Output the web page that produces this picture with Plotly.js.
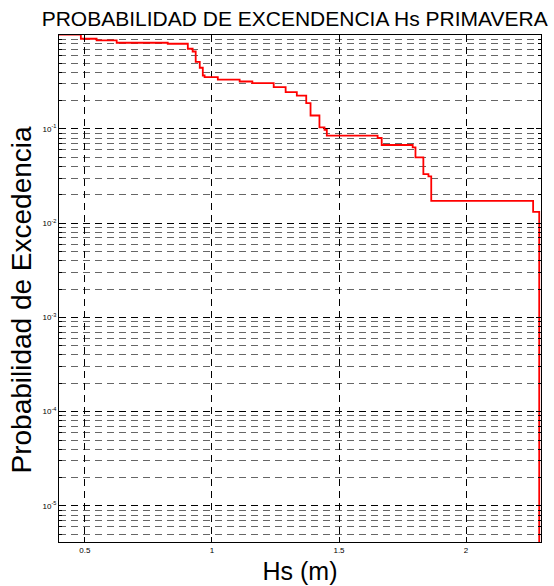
<!DOCTYPE html>
<html>
<head>
<meta charset="utf-8">
<script src="https://cdn.plot.ly/plotly-3.0.1.min.js"></script>
<style>html,body{margin:0;padding:0;background:#fff;}#chart{width:554px;height:586px;}</style>
</head>
<body>
<div id="chart"></div>
<script>
// Hs (m) where each step begins, and exceedance probability from there
const hs = [0.398, 0.484, 0.546, 0.625, 0.826, 0.905, 0.924, 0.936, 0.952, 0.964, 0.971,
            1.023, 1.109, 1.159, 1.243, 1.290, 1.334, 1.371, 1.388, 1.423, 1.443, 1.452,
            1.652, 1.668, 1.790, 1.801, 1.832, 1.852, 1.863, 2.264, 2.288];
const prob = [1.0, 0.906, 0.870, 0.822, 0.802, 0.710, 0.664, 0.516, 0.446, 0.369, 0.355,
              0.334, 0.319, 0.306, 0.278, 0.246, 0.226, 0.188, 0.139, 0.104, 0.098, 0.0849,
              0.0802, 0.0676, 0.0638, 0.050, 0.0332, 0.0314, 0.01726, 0.0132, 1e-9];
const xTicks = [0.5, 1, 1.5, 2];
const xTickText = ['0.5', '1', '1.5', '2'];
const yTicks = [1e-5, 1e-4, 1e-3, 1e-2, 1e-1];
const yTickText = ['10<sup>-5</sup>', '10<sup>-4</sup>', '10<sup>-3</sup>', '10<sup>-2</sup>', '10<sup>-1</sup>'];

const minorY = [];
for (let e = -6; e <= -1; e++) for (let k = 2; k <= 9; k++) minorY.push(k * Math.pow(10, e));

const FONT = 'Liberation Sans, Arial, sans-serif';
const DASH = '7px,5px';

const trace = {
  x: hs, y: prob, type: 'scatter', mode: 'lines',
  line: {color: '#ff0000', width: 1.8, shape: 'hv'},
  hoverinfo: 'skip'
};

const layout = {
  width: 554, height: 586,
  margin: {l: 59, r: 13, t: 35, b: 44},
  paper_bgcolor: '#fff', plot_bgcolor: '#fff',
  showlegend: false,
  font: {family: FONT, color: '#000'},
  title: {text: 'PROBABILIDAD DE EXCENDENCIA Hs PRIMAVERA', font: {size: 21, family: FONT, color: '#000'},
          x: 0.532, xref: 'container', xanchor: 'center', y: 0.968, yanchor: 'middle'},
  xaxis: {
    range: [0.398, 2.295], tickmode: 'array', tickvals: xTicks, ticktext: xTickText,
    ticks: 'inside', ticklen: 5, tickcolor: '#000', tickwidth: 1,
    showline: true, linecolor: '#000', linewidth: 1, mirror: 'allticks',
    showgrid: true, gridcolor: '#000', gridwidth: 1, griddash: DASH,
    zeroline: false, tickfont: {size: 8, family: FONT, color: '#000'},
    title: {text: 'Hs (m)', font: {size: 25, family: FONT, color: '#000'}, standoff: 8}
  },
  yaxis: {
    type: 'log', range: [-5.383, -0.003], tickmode: 'array', tickvals: yTicks, ticktext: yTickText,
    ticks: 'inside', ticklen: 5, tickcolor: '#000', tickwidth: 1,
    showline: true, linecolor: '#000', linewidth: 1, mirror: 'allticks',
    showgrid: true, gridcolor: '#000', gridwidth: 1, griddash: DASH,
    zeroline: false, tickfont: {size: 8, family: FONT, color: '#000'},
    minor: {tickmode: 'array', tickvals: minorY, ticks: 'inside', ticklen: 3, tickcolor: '#000',
            showgrid: true, gridcolor: '#666', gridwidth: 1, griddash: DASH}
  },
  annotations: [{
    text: 'Probabilidad de Excedencia', textangle: -90, showarrow: false,
    xref: 'paper', yref: 'paper', x: 0, y: 0.5, xanchor: 'center', yanchor: 'middle',
    xshift: -38, yshift: -11,
    font: {size: 28, family: FONT, color: '#000'}
  }]
};

Plotly.newPlot('chart', [trace], layout, {displayModeBar: false, staticPlot: true});
</script>
</body>
</html>
